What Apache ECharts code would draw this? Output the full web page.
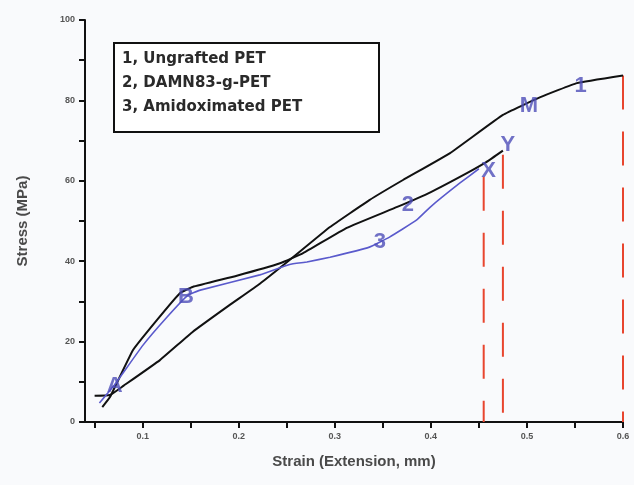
<!DOCTYPE html>
<html>
<head>
<meta charset="utf-8">
<script src="https://cdn.jsdelivr.net/npm/echarts@6/dist/echarts.min.js"></script>
<style>
  html, body { margin: 0; padding: 0; background: #f9fafc; }
  #chart { width: 634px; height: 485px; }
</style>
</head>
<body>
<div id="chart"></div>
<script>
// Stress–strain curves: [strain (mm), stress (MPa)]
const ungraftedPET = [
  [0.050, 6.5], [0.066, 6.7], [0.080, 9.0], [0.118, 15.4], [0.152, 22.4],
  [0.190, 29.0], [0.222, 34.4], [0.253, 40.3], [0.295, 48.5], [0.336, 55.2],
  [0.371, 60.2], [0.420, 66.9], [0.475, 76.4], [0.514, 80.8], [0.552, 84.3],
  [0.600, 86.2]
];
const damn83PET = [
  [0.058, 3.7], [0.066, 6.2], [0.090, 17.9], [0.115, 25.4], [0.139, 32.1],
  [0.152, 33.6], [0.198, 36.4], [0.243, 39.5], [0.267, 42.0], [0.3125, 48.3],
  [0.365, 53.5], [0.400, 57.2], [0.4375, 61.9], [0.458, 64.7], [0.475, 67.5]
];
const amidoximatedPET = [
  [0.055, 4.7], [0.070, 9.0], [0.100, 19.0], [0.125, 26.0], [0.147, 31.5],
  [0.160, 32.8], [0.222, 36.6], [0.253, 39.2], [0.271, 39.8], [0.295, 41.0],
  [0.336, 43.5], [0.357, 46.0], [0.385, 50.2], [0.400, 53.6], [0.430, 59.4],
  [0.450, 63.0]
];

// Break points marked with vertical drop lines: [strain, stress]
const breakPoints = [[0.455, 61], [0.475, 66.5], [0.600, 86.2]];

// Point annotations: [strain, stress, text]
const annotations = [
  [0.071, 9.0, 'A'], [0.145, 31.0, 'B'], [0.376, 54.0, '2'], [0.347, 44.8, '3'],
  [0.556, 83.5, '1'], [0.502, 78.5, 'M'], [0.460, 62.5, 'X'], [0.480, 69.0, 'Y'],
  [0.606, 87.5, 'Z']
];

const legendLines = ['1, Ungrafted PET', '2, DAMN83-g-PET', '3, Amidoximated PET'];

const xLabelValues = [0.1, 0.2, 0.3, 0.4, 0.5, 0.6];
const xTickValues = [0.05, 0.1, 0.15, 0.2, 0.25, 0.3, 0.35, 0.4, 0.45, 0.5, 0.55, 0.6];

const chart = echarts.init(document.getElementById('chart'), null, { renderer: 'canvas' });

const tickLabelStyle = {
  fontFamily: 'Liberation Sans, Arial, sans-serif',
  fontSize: 9,
  fontWeight: 'bold',
  color: '#555'
};

const curveSeries = (name, data, color, width) => ({
  name,
  type: 'line',
  data,
  smooth: 0.1,
  symbol: 'none',
  lineStyle: { color, width },
  z: 3
});

// Dashes run from the break point down to the strain axis
const dropSeries = breakPoints.map((p, i) => ({
  name: 'drop' + i,
  type: 'line',
  data: [[p[0], p[1]], [p[0], 0]],
  symbol: 'none',
  lineStyle: { color: '#e8452e', width: 2, type: [34, 22] },
  z: 2
}));

chart.setOption({
  backgroundColor: '#f9fafc',
  animation: false,
  grid: { left: 85, right: 11, top: 20, bottom: 63 },
  xAxis: {
    type: 'value',
    min: 0.04,
    max: 0.6,
    name: 'Strain (Extension, mm)',
    nameLocation: 'middle',
    nameGap: 32,
    nameTextStyle: {
      fontFamily: 'Liberation Sans, Arial, sans-serif',
      fontSize: 15, fontWeight: 'bold', color: '#4a4a4a'
    },
    axisLine: { show: true, onZero: false, lineStyle: { color: '#111', width: 2 } },
    axisTick: { show: true, length: 6, customValues: xTickValues, lineStyle: { color: '#111', width: 2 } },
    axisLabel: Object.assign({ customValues: xLabelValues, margin: 10,
      formatter: v => v.toFixed(1) }, tickLabelStyle),
    splitLine: { show: false }
  },
  yAxis: {
    type: 'value',
    min: 0,
    max: 100,
    interval: 20,
    name: 'Stress (MPa)',
    nameLocation: 'middle',
    nameGap: 55,
    nameTextStyle: {
      fontFamily: 'Liberation Sans, Arial, sans-serif',
      fontSize: 15, fontWeight: 'bold', color: '#4a4a4a'
    },
    axisLine: { show: true, lineStyle: { color: '#111', width: 2 } },
    axisTick: { show: true, length: 6, lineStyle: { color: '#111', width: 2 } },
    minorTick: { show: true, splitNumber: 2, length: 6, lineStyle: { color: '#111', width: 2 } },
    axisLabel: Object.assign({ margin: 10 }, tickLabelStyle),
    splitLine: { show: false }
  },
  series: [
    curveSeries('1, Ungrafted PET', ungraftedPET, '#111', 2),
    curveSeries('2, DAMN83-g-PET', damn83PET, '#111', 2),
    curveSeries('3, Amidoximated PET', amidoximatedPET, '#5a5acc', 1.6),
    ...dropSeries,
    {
      name: 'annotations',
      type: 'scatter',
      data: annotations.map(a => ({ value: [a[0], a[1]], text: a[2] })),
      symbolSize: 0,
      z: 5,
      label: {
        show: true,
        position: 'inside',
        formatter: p => p.data.text,
        fontFamily: 'Liberation Sans, Arial, sans-serif',
        fontSize: 22,
        fontWeight: 'bold',
        color: '#4d4db8'
      }
    }
  ],
  graphic: [
    {
      type: 'rect',
      shape: { x: 114, y: 43, width: 265, height: 89 },
      style: { fill: '#ffffff', stroke: '#111', lineWidth: 2 },
      z: 10
    },
    ...legendLines.map((t, i) => ({
      type: 'text',
      left: 122,
      top: 52 + i * 24,
      style: {
        text: t,
        fontFamily: 'DejaVu Sans, sans-serif',
        fontSize: 15,
        fontWeight: 'bold',
        fill: '#2a2a2a'
      },
      z: 11
    }))
  ]
});
</script>
</body>
</html>
